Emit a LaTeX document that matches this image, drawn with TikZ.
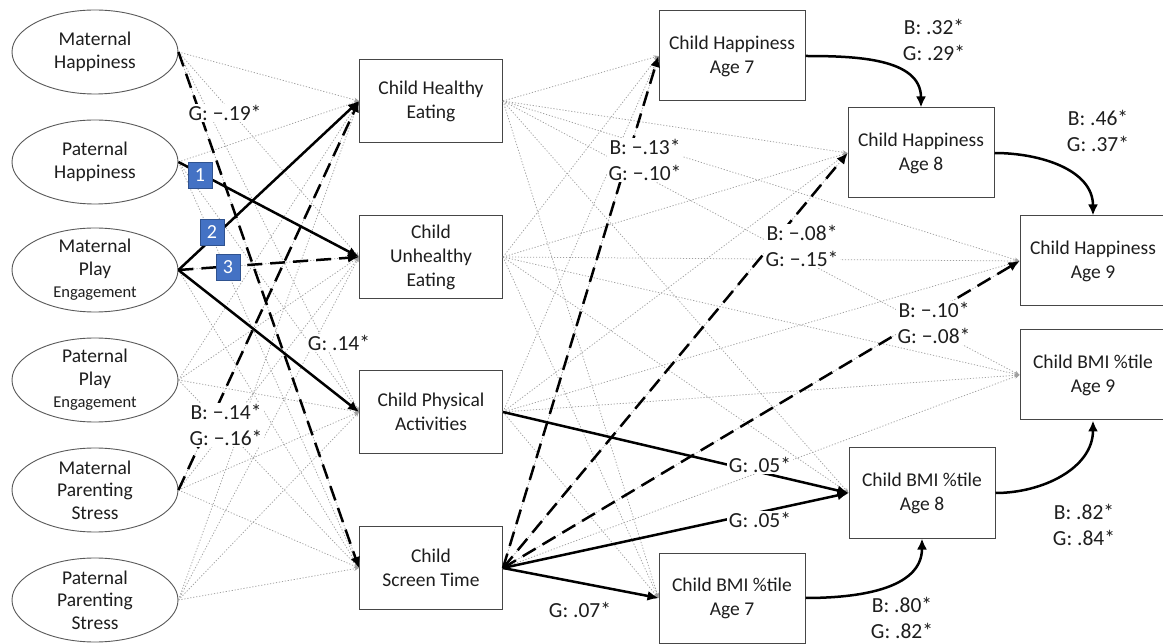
\documentclass[tikz,border=0pt]{standalone}
\usepackage{fontspec}
\setmainfont{Carlito}
\usetikzlibrary{arrows.meta,shapes.geometric}
\definecolor{bluebox}{HTML}{4472C4}
\definecolor{blueedge}{HTML}{2F528F}
\definecolor{txt}{HTML}{1E1E1E}
\definecolor{dotgray}{HTML}{A0A0A0}
\begin{document}
\begin{tikzpicture}[x=1pt,y=-1pt,
  ell/.style={ellipse,draw=gray!70!black,line width=0.9pt,minimum width=166pt,minimum height=84pt,inner sep=0pt},
  etext/.style={align=center,font=\fontsize{19.5}{22.5}\selectfont,text=txt},
  box/.style={rectangle,draw=gray!55!black,line width=1pt,align=center,font=\fontsize{19.5}{24}\selectfont,text=txt},
  midbox/.style={box,minimum width=143pt,minimum height=83pt},
  rbox/.style={box,minimum width=146pt,minimum height=90pt},
  gline/.style={draw=dotgray,line width=0.75pt,dash pattern=on 1.2pt off 1.8pt,-{Stealth[length=5pt,width=4pt]}},
  bsolid/.style={line width=2.5pt,-{Latex[length=11pt,width=10pt]}},
  bdash/.style={bsolid,dash pattern=on 15pt off 8pt},
  lab/.style={fill=white,inner sep=1.5pt,align=center,font=\fontsize{21.5}{26}\selectfont,text=txt},
  num/.style={fill=bluebox,draw=blueedge,line width=0.8pt,text=white,minimum width=24pt,minimum height=26pt,inner sep=0pt,font=\fontsize{20}{22}\selectfont},
]
\useasboundingbox (0,0) rectangle (1163,644);
\fill[white] (0,0) rectangle (1163,644);

% left ellipses
\node[ell,label={[etext]center:Maternal\\Happiness}] (mh) at (95,52) {};
\node[ell,label={[etext]center:Paternal\\Happiness}] (ph) at (95,162) {};
\node[ell,label={[etext]center:Maternal\\Play\\{\fontsize{16.5}{19}\selectfont Engagement}}] (mp) at (95,270) {};
\node[ell,label={[etext]center:Paternal\\Play\\{\fontsize{16.5}{19}\selectfont Engagement}}] (pp) at (95,380) {};
\node[ell,label={[etext]center:Maternal\\Parenting\\Stress}] (ms) at (95,490) {};
\node[ell,label={[etext]center:Paternal\\Parenting\\Stress}] (ps) at (95,600) {};

% middle boxes
\node[midbox] (he) at (431,101) {Child Healthy\\Eating};
\node[midbox] (ue) at (431,257) {Child\\Unhealthy\\Eating};
\node[midbox] (pa) at (431,412) {Child Physical\\Activities};
\node[midbox] (st) at (431,568) {Child\\Screen Time};

% right boxes
\node[rbox] (h7) at (732,56) {Child Happiness\\Age 7};
\node[rbox] (h8) at (921,153) {Child Happiness\\Age 8};
\node[rbox] (h9) at (1093,261) {Child Happiness\\Age 9};
\node[rbox] (b9) at (1093,375) {Child BMI \%tile\\Age 9};
\node[rbox] (b8) at (922,493) {Child BMI \%tile\\Age 8};
\node[rbox] (b7) at (732,598) {Child BMI \%tile\\Age 7};

% gray non-significant paths
\foreach \s in {mh,ph,mp,pp,ms,ps}
  \foreach \t in {he,ue,pa,st}
    \draw[gline] (\s.east) -- (\t.west);
\foreach \s in {he,ue,pa,st}
  \foreach \t in {h7,h8,h9,b9,b8,b7}
    \draw[gline] (\s.east) -- (\t.west);

% significant paths
\draw[bdash] (mh.east) -- (st.west);
\draw[bsolid] (ph.east) -- (ue.west);
\draw[bsolid] (mp.east) -- (he.west);
\draw[bdash] (mp.east) -- (ue.west);
\draw[bsolid] (mp.east) -- (pa.west);
\draw[bdash] (ms.east) -- (he.west);
\draw[bsolid] (pa.east) -- (b8.west);
\draw[bsolid] (st.east) -- (b8.west);
\draw[bsolid] (st.east) -- (b7.west);
\draw[bdash] (st.east) -- (h7.west);
\draw[bdash] (st.east) -- (h8.west);
\draw[bdash] (st.east) -- (h9.west);
\draw[bsolid] (h7.east) to[out=0,in=90] (h8.north);
\draw[bsolid] (h8.east) to[out=0,in=90] (h9.north);
\draw[bsolid] (b7.east) to[out=0,in=-90] (b8.south);
\draw[bsolid] (b8.east) to[out=0,in=-90] (b9.south);

% labels
\node[lab] (l1) at (225,113) {G: −.19*};
\node[lab] (l2) at (339,343) {G: .14*};
\node[lab] (l3) at (226,425) {B: −.14*\\G: −.16*};
\node[lab] (l4) at (645,160) {B: −.13*\\G: −.10*};
\node[lab] (l5) at (802,246) {B: −.08*\\G: −.15*};
\node[lab] (l6) at (934,323) {B: −.10*\\G: −.08*};
\node[lab] (l7) at (760,465) {G: .05*};
\node[lab] (l8) at (760,520) {G: .05*};
\node[lab] (l9) at (580,610) {G: .07*};
\node[lab] (l10) at (934,40) {B: .32*\\G: .29*};
\node[lab] (l11) at (1098,131) {B: .46*\\G: .37*};
\node[lab] (l12) at (902,618) {B: .80*\\G: .82*};
\node[lab] (l13) at (1084,525) {B: .82*\\G: .84*};

% numbered markers
\node[num] (n1) at (200,175) {1};
\node[num] (n2) at (212,232) {2};
\node[num] (n3) at (228,267) {3};
\end{tikzpicture}
\end{document}
